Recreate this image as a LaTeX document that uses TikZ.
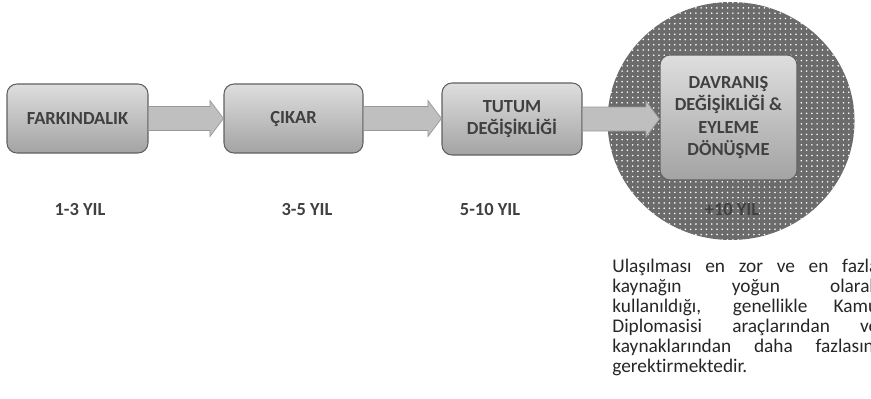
\documentclass[tikz,border=0pt]{standalone}
\usepackage{fontspec}
\setmainfont{Carlito}[Ligatures=NoCommon]
\usetikzlibrary{calc,patterns}
\definecolor{txtgray}{HTML}{404040}
\definecolor{pargray}{HTML}{262626}

\begin{document}
\begin{tikzpicture}[font=\bfseries\fontsize{10.5}{12.8}\selectfont, text=txtgray,
  stage/.style={draw=black!62, line width=.6pt, rounded corners=.2cm,
    top color=black!13, bottom color=black!36, align=center, inner sep=2pt},
  arrowfill/.style={draw=black!40, fill=black!25, line width=.4pt},
  yearlabel/.style={anchor=center}]
\useasboundingbox (0,0) rectangle (17.42,7.96);

\pgfmathsetmacro{\shaft}{.24};
\pgfmathsetmacro{\head}{.36};
\pgfmathsetmacro{\headlen}{.27};

% dotted halo behind the last stage
\coordinate (halo) at (14.62,5.54);
\fill[black!58] (halo) ellipse (2.47 and 2.38);
\fill[pattern=dots, pattern color=white] (halo) ellipse (2.47 and 2.38);

\node[stage, minimum width=2.82cm, minimum height=1.38cm] (fark) at (1.55,5.59) {FARKINDALIK};
\node[stage, minimum width=2.78cm, minimum height=1.38cm] (cikar) at (5.87,5.59) {ÇIKAR};
\node[stage, minimum width=2.8cm, minimum height=1.44cm] (tutum) at (10.24,5.58) {TUTUM\\DEĞİŞİKLİĞİ};
\node[stage, minimum width=2.74cm, minimum height=2.5cm] (davr) at (14.57,5.61) {DAVRANIŞ\\DEĞİŞİKLİĞİ \&\\EYLEME\\DÖNÜŞME};

\foreach \a/\b in {fark/cikar, cikar/tutum, tutum/davr} {
  \coordinate (tip) at (\b.west |- \a.east);
  \draw[arrowfill] ($(\a.east)+(0,\shaft)$) -- ($(tip)+(-\headlen,\shaft)$)
    -- ($(tip)+(-\headlen,\head)$) -- (tip) -- ($(tip)+(-\headlen,-\head)$)
    -- ($(tip)+(-\headlen,-\shaft)$) -- ($(\a.east)+(0,-\shaft)$) -- cycle;
}

\node[yearlabel] (y1) at (1.6,3.76) {1-3 YIL};
\node[yearlabel] (y2) at (6.14,3.76) {3-5 YIL};
\node[yearlabel] (y3) at (9.8,3.76) {5-10 YIL};
\node[yearlabel] (y4) at (14.64,3.76) {+10 YIL};

\node[anchor=north west, inner sep=0pt, text width=5.32cm, align=justify, text=pargray,
  font=\mdseries\fontsize{11}{11.3}\selectfont] (note) at (12.24,2.78)
  {Ulaşılması en zor ve en fazla\linebreak kaynağın yoğun olarak\linebreak
   kullanıldığı, genellikle Kamu\linebreak Diplomasisi araçlarından ve\linebreak
   kaynaklarından daha fazlasını\linebreak gerektirmektedir.};

\end{tikzpicture}
\end{document}
